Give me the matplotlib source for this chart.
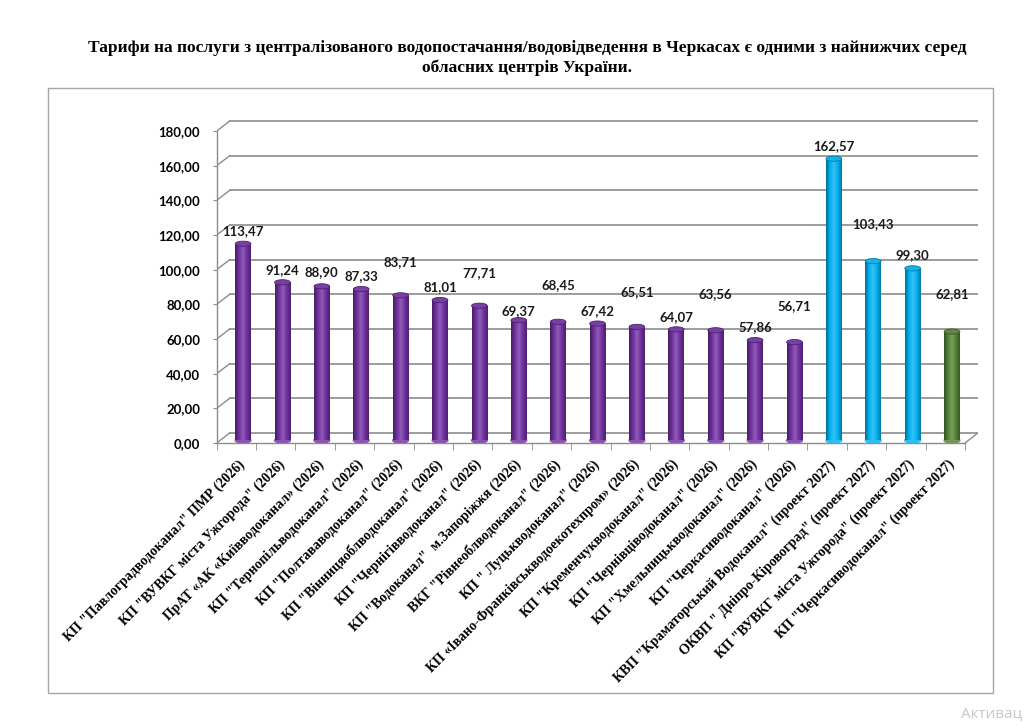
import numpy as np
import matplotlib
matplotlib.use("Agg")
import matplotlib.pyplot as plt
from matplotlib.colors import LinearSegmentedColormap, to_rgb
from matplotlib.patches import Ellipse, Rectangle

names = [
    'КП "Павлоградводоканал" ПМР (2026)',
    'КП "ВУВКГ міста Ужгорода" (2026)',
    'ПрАТ «АК «Київводоканал» (2026)',
    'КП "Тернопільводоканал" (2026)',
    'КП "Полтававодоканал" (2026)',
    'КП "Вінницяоблводоканал" (2026)',
    'КП "Чернігівводоканал" (2026)',
    'КП "Водоканал"  м.Запоріжжя (2026)',
    'ВКГ "Рівнеоблводоканал" (2026)',
    'КП " Луцькводоканал" (2026)',
    'КП «Івано-Франківськводоекотехпром» (2026)',
    'КП "Кременчукводоканал" (2026)',
    'КП "Чернівціводоканал" (2026)',
    'КП "Хмельницькводоканал" (2026)',
    'КП "Черкасиводоканал" (2026)',
    'КВП "Краматорський Водоканал" (проект 2027)',
    'ОКВП " Дніпро-Кіровоград" (проект 2027)',
    'КП "ВУВКГ міста Ужгорода" (проект 2027)',
    'КП "Черкасиводоканал" (проект 2027)',
]
values = [113.47, 91.24, 88.90, 87.33, 83.71, 81.01, 77.71, 69.37, 68.45, 67.42,
          65.51, 64.07, 63.56, 57.86, 56.71, 162.57, 103.43, 99.30, 62.81]
groups = ['2026'] * 15 + ['2027'] * 3 + ['cherkasy']
# where the data labels sit (value units), as in the original
label_y = [122.5, 99.8, 98.7, 96.4, 104.3, 89.8, 97.9, 76.3, 91.4, 76.3,
           87.3, 72.5, 86.0, 66.8, 79.0, 171.4, 126.4, 108.7, 86.0]
yticks = [0, 20, 40, 60, 80, 100, 120, 140, 160, 180]

colors = {'2026': '#7030A0', '2027': '#00B0F0', 'cherkasy': '#548235'}
grid_c = '#8C8C8C'

def fmt(v):
    return f"{v:.2f}".replace('.', ',')

def cyl_cmap(c):
    r = np.array(to_rgb(c))
    dark = r * 0.62
    light = np.clip(r + (1 - r) * 0.22, 0, 1)
    return LinearSegmentedColormap.from_list('c', [dark, r, light, r, dark * 1.1])

fig = plt.figure(figsize=(10.30, 7.27), dpi=100)
fig.patch.set_facecolor('white')

# outer chart border
fig.add_artist(Rectangle((48 / 1030, 1 - 693 / 727), (993 - 48) / 1030, (693 - 88) / 727,
                         transform=fig.transFigure, fill=False, ec='#A6A6A6', lw=1.0))

fig.text(0.512, 1 - 48 / 727,
         'Тарифи на послуги з централізованого водопостачання/водовідведення в Черкасах є одними з найнижчих серед',
         ha='center', va='center', fontsize=12.5, fontweight='bold', family='Liberation Serif')
fig.text(0.512, 1 - 68 / 727, 'обласних центрів України.',
         ha='center', va='center', fontsize=12.5, fontweight='bold', family='Liberation Serif')

n = len(values)
dx, dy = 0.33, 5.8
ymax = 187
ax = fig.add_axes([216.7 / 1030, (727 - 443) / 727, 761.3 / 1030, ymax * 1.733 / 727])
ax.set_xlim(-0.5, n - 0.5 + dx)
ax.set_ylim(0, ymax)
ax.patch.set_alpha(0)

# back wall gridlines + diagonal connectors
for t in yticks:
    ax.plot([-0.5 + dx, n - 0.5 + dx], [t + dy, t + dy], color=grid_c, lw=1.2, zorder=1)
    ax.plot([-0.5, -0.5 + dx], [t, t + dy], color=grid_c, lw=1.0, zorder=1)
ax.plot([n - 0.5, n - 0.5 + dx], [0, dy], color=grid_c, lw=1.0, zorder=1)

for s in ['top', 'right']:
    ax.spines[s].set_visible(False)
ax.spines['left'].set_bounds(0, 180)
ax.spines['bottom'].set_bounds(-0.5, n - 0.5)
for s in ['left', 'bottom']:
    ax.spines[s].set_color(grid_c)
    ax.spines[s].set_linewidth(1.0)

ax.set_yticks(yticks)
ax.set_yticklabels([fmt(t) for t in yticks], family='Lato', fontweight='bold', fontsize=9.5)
ax.tick_params(axis='y', length=3, color=grid_c, pad=9)

xpos = np.arange(n) + 0.17
ax.set_xticks(xpos)
ax.set_xticklabels(names, rotation=45, ha='right', va='center', rotation_mode='anchor',
                   family='Liberation Serif', fontweight='bold', fontsize=10)
ax.tick_params(axis='x', which='major', length=0, pad=14)
ax.set_xticks(np.arange(n + 1) - 0.5, minor=True)
ax.tick_params(axis='x', which='minor', length=5, color=grid_c)

bw = 0.40
base = 1.5
cap_h = 3.0
bars = ax.bar(xpos, values, width=bw, bottom=base, color='none', edgecolor='none', zorder=3)
grad = np.linspace(0, 1, 64).reshape(1, -1)
for rect, v, g, x in zip(bars, values, groups, xpos):
    c = colors[g]
    cm = cyl_cmap(c)
    ax.add_patch(Ellipse((x, base), bw, cap_h, color=cm(0.45), zorder=3))
    im = ax.imshow(grad, cmap=cm, aspect='auto', zorder=4,
                   extent=[x - bw / 2, x + bw / 2, base, base + v])
    im.set_clip_path(rect)
    r = np.array(to_rgb(c))
    ax.add_patch(Ellipse((x, base + v), bw, cap_h,
                         color=np.clip(r * 0.9 + 0.08, 0, 1), ec=r * 0.7, lw=0.6, zorder=5))

for x, v, ly in zip(xpos, values, label_y):
    ax.text(x, ly, fmt(v), ha='center', va='center', family='Lato', fontweight='bold',
            fontsize=9.5, color='#1A1A1A', zorder=6)

fig.text(1 - 8 / 1030, 1 - 714 / 727, 'Активац', ha='right', va='center',
         fontsize=11, color='#C8C8C8', family='Open Sans')

fig.savefig('out.png', dpi=100, facecolor='white')
